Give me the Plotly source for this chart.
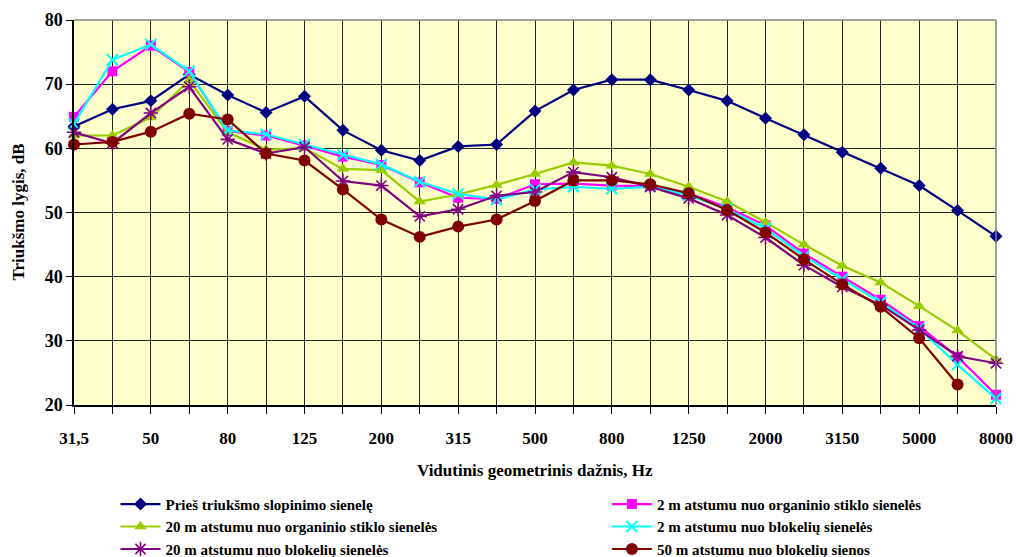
import plotly.graph_objects as go

freqs = ["31,5", "40", "50", "63", "80", "100", "125", "160", "200", "250", "315", "400",
         "500", "630", "800", "1000", "1250", "1600", "2000", "2500", "3150", "4000",
         "5000", "6300", "8000"]
tick_labels = ["31,5", "", "50", "", "80", "", "125", "", "200", "", "315", "", "500", "",
               "800", "", "1250", "", "2000", "", "3150", "", "5000", "", "8000"]

before_wall = [63.4, 66.1, 67.4, 71.5, 68.3, 65.6, 68.1, 62.8, 59.7, 58.1, 60.3, 60.6,
               65.8, 69.1, 70.7, 70.7, 69.1, 67.4, 64.7, 62.1, 59.4, 56.9, 54.2, 50.3, 46.3]
glass_2m = [64.9, 72.0, 76.0, 71.9, 62.7, 62.0, 60.4, 58.7, 57.4, 54.7, 52.3, 52.1,
            54.4, 54.5, 54.2, 54.1, 53.0, 50.8, 48.0, 43.6, 40.0, 36.4, 32.3, 27.5, 21.6]
glass_20m = [62.0, 62.0, 64.8, 70.6, 62.5, 59.8, 60.0, 56.8, 56.6, 51.7, 52.8, 54.3,
             56.0, 57.8, 57.3, 56.0, 54.0, 51.7, 48.5, 45.0, 41.7, 39.1, 35.4, 31.6, 27.1]
blocks_2m = [63.8, 73.8, 76.2, 72.0, 62.8, 62.2, 60.6, 59.0, 57.5, 54.8, 52.9, 52.0,
             53.6, 54.0, 53.7, 54.0, 52.7, 50.5, 47.5, 43.2, 39.6, 36.0, 31.9, 26.3, 21.0]
blocks_20m = [62.5, 60.8, 65.5, 69.6, 61.4, 59.2, 60.2, 54.9, 54.2, 49.4, 50.5, 52.6,
              53.2, 56.3, 55.5, 54.0, 52.2, 49.6, 46.1, 41.8, 38.4, 35.6, 31.7, 27.6, 26.5]
blocks_50m = [60.6, 61.0, 62.6, 65.4, 64.5, 59.2, 58.1, 53.6, 48.9, 46.2, 47.8, 48.9,
              51.8, 55.0, 55.0, 54.4, 53.0, 50.4, 46.9, 42.7, 38.8, 35.3, 30.4, 23.2, None]

# name, values, colour, symbol, size, symbol line width, legend column
series = [
    ("Prieš triukšmo slopinimo sienelę", before_wall, "#000080", "diamond", 10, 0, "legend"),
    ("2 m atstumu nuo organinio stiklo sienelės", glass_2m, "#FF00FF", "square", 10, 0, "legend2"),
    ("20 m atstumu nuo organinio stiklo sienelės", glass_20m, "#99CC00", "triangle-up", 11, 0, "legend"),
    ("2 m atstumu nuo blokelių sienelės", blocks_2m, "#00FFFF", "x-thin-open", 11, 2, "legend2"),
    ("20 m atstumu nuo blokelių sienelės", blocks_20m, "#800080", "asterisk-open", 12, 1.6, "legend"),
    ("50 m atstumu nuo blokelių sienos", blocks_50m, "#800000", "circle", 12, 0, "legend2"),
]

fig = go.Figure()
for name, vals, color, sym, size, lw, leg in series:
    marker = dict(symbol=sym, size=size, color=color)
    if lw:
        marker["line"] = dict(color=color, width=lw)
    fig.add_trace(go.Scatter(
        x=freqs, y=vals, name=name, mode="lines+markers",
        line=dict(color=color, width=2.2), marker=marker, cliponaxis=False,
        connectgaps=False, legend=leg,
    ))

font_family = "Liberation Serif, Times New Roman, serif"
legend_font = dict(family=font_family, size=15, color="black", weight="bold")

fig.update_layout(
    width=1016, height=557,
    margin=dict(l=74, r=20, t=20, b=152, autoexpand=False),
    paper_bgcolor="white",
    plot_bgcolor="#FFFFCC",
    font=dict(family=font_family, color="black"),
    showlegend=True,
    legend=dict(
        orientation="v", x=0.045, xanchor="left", y=-0.215, yanchor="top",
        tracegroupgap=0, font=legend_font, itemwidth=40, bgcolor="rgba(0,0,0,0)",
    ),
    legend2=dict(
        orientation="v", x=0.578, xanchor="left", y=-0.215, yanchor="top",
        tracegroupgap=0, font=legend_font, itemwidth=40, bgcolor="rgba(0,0,0,0)",
    ),
    xaxis=dict(
        type="category", range=[0, len(freqs) - 1],
        tickvals=freqs, ticktext=tick_labels,
        showgrid=True, gridcolor="#222222", gridwidth=1.2,
        showline=True, linecolor="black", linewidth=1.5, mirror=False,
        ticks="outside", ticklen=7, tickcolor="black", tickwidth=1,
        ticklabelstandoff=10,
        tickfont=dict(family=font_family, size=17, weight="bold", color="black"),
        zeroline=False,
    ),
    yaxis=dict(
        range=[20, 80], dtick=10, tick0=20,
        showgrid=True, gridcolor="#222222", gridwidth=1.2,
        showline=True, linecolor="black", linewidth=1.5,
        ticks="outside", ticklen=6, tickcolor="black", tickwidth=1,
        tickfont=dict(family=font_family, size=18, weight="bold", color="black"),
        zeroline=False,
    ),
    shapes=[
        dict(type="line", xref="paper", yref="paper", x0=0, x1=1, y0=1, y1=1,
             line=dict(color="#808080", width=1.5)),
        dict(type="line", xref="paper", yref="paper", x0=1, x1=1, y0=0, y1=1,
             line=dict(color="#808080", width=1.5)),
    ],
    annotations=[
        dict(text="Triukšmo lygis, dB", xref="paper", yref="paper",
             x=-0.0607, y=0.5, textangle=-90, showarrow=False,
             xanchor="center", yanchor="middle",
             font=dict(family=font_family, size=17, weight="bold", color="black")),
        dict(text="Vidutinis geometrinis dažnis, Hz", xref="paper", yref="paper",
             x=0.5, y=-0.169, showarrow=False, xanchor="center", yanchor="middle",
             font=dict(family=font_family, size=17, weight="bold", color="black")),
    ],
)

fig.write_html("out.html")
